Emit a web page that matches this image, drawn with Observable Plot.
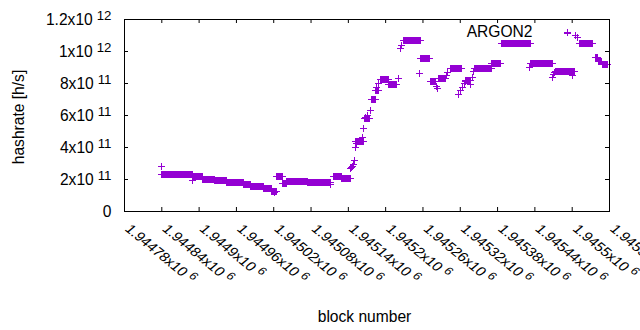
<!DOCTYPE html>
<html><head><meta charset="utf-8">
<script src="https://cdn.jsdelivr.net/npm/d3@7"></script>
<script src="https://cdn.jsdelivr.net/npm/@observablehq/plot@0.6"></script>
<style>body{margin:0;background:#fff;}</style>
</head><body><div id="chart"></div>
<script>
// Runs of consecutive blocks sharing the same hashrate
const segStart = [1944840,1944889,1944906,1944925,1944944,1944972,1944982,1945004,1945017,1945025,1945034,1945041,1945075,1945116,1945129,1945151,1945166,1945178,1945183,1945191,1945205,1945229,1945256,1945272,1945285,1945304,1945329,1945343,1945371,1945387,1945433,1945473,1945512,1945537,1945542,1945548];
const segEnd   = [1944889,1944906,1944925,1944944,1944972,1944982,1945004,1945017,1945025,1945034,1945041,1945075,1945111,1945129,1945143,1945164,1945174,1945183,1945188,1945205,1945218,1945256,1945271,1945280,1945296,1945322,1945337,1945371,1945385,1945433,1945468,1945503,1945533,1945541,1945547,1945557];
const segRate  = [2.31e11,2.17e11,2.02e11,1.95e11,1.81e11,1.69e11,1.59e11,1.45e11,1.28e11,2.17e11,1.77e11,1.85e11,1.82e11,2.19e11,2.04e11,4.38e11,5.79e11,6.98e11,7.56e11,8.23e11,7.94e11,1.067e12,9.54e11,8.1e11,8.33e11,8.92e11,8.19e11,8.92e11,9.23e11,1.048e12,9.23e11,8.75e11,1.052e12,9.6e11,9.4e11,9.2e11];
// Individual scattered blocks
const ptBlock = [1944840,1944890,1945022,1945112,1945143,1945145,1945146,1945148,1945150,1945152,1945153,1945162,1945165,1945168,1945171,1945175,1945186,1945189,1945221,1945224,1945226,1945254,1945281,1945283,1945298,1945300,1945317,1945320,1945323,1945326,1945328,1945337,1945339,1945341,1945432,1945468,1945470,1945472,1945501,1945506,1945508];
const ptRate  = [2.81e11,1.94e11,1.17e11,1.69e11,2.67e11,2.75e11,2.83e11,2.95e11,3.19e11,4.02e11,4.23e11,4.65e11,5.2e11,5.9e11,6.0e11,6.31e11,7.77e11,7.98e11,8.29e11,1.017e12,1.0375e12,8.6e11,7.8e11,7.7e11,8.5e11,8.7e11,7.29e11,7.56e11,7.78e11,7.98e11,8.13e11,7.94e11,8.39e11,8.75e11,9.0e11,8.39e11,8.56e11,8.7e11,8.5e11,1.1e12,1.089e12];

const xTicks = [1944780,1944840,1944900,1944960,1945020,1945080,1945140,1945200,1945260,1945320,1945380,1945440,1945500,1945560];
const xTickMantissa = ["1.94478x10","1.94484x10","1.9449x10","1.94496x10","1.94502x10","1.94508x10","1.94514x10","1.9452x10","1.94526x10","1.94532x10","1.94538x10","1.94544x10","1.9455x10","1.94556x10"];
const xTickExponent = "6";
const yTicks = [0,2e11,4e11,6e11,8e11,1e12,1.2e12];
const yTickMantissa = ["0","2x10","4x10","6x10","8x10","1x10","1.2x10"];
const yTickExponent = ["","11","11","11","11","12","12"];
const seriesName = "ARGON2";
const xTitle = "block number";
const yTitle = "hashrate [h/s]";

const color = "#9400d3";
const data = [];
segStart.forEach((s, i) => { for (let b = s; b <= segEnd[i]; b++) data.push({block: b, rate: segRate[i]}); });
ptBlock.forEach((b, i) => data.push({block: b, rate: ptRate[i]}));

const plus = {draw(ctx, size) { const r = Math.sqrt(size / Math.PI); ctx.moveTo(-r, 0); ctx.lineTo(r, 0); ctx.moveTo(0, -r); ctx.lineTo(0, r); }};

const chart = Plot.plot({
  width: 640, height: 330,
  marginLeft: 124, marginRight: 31, marginTop: 19, marginBottom: 119,
  style: {fontFamily: "'Liberation Sans', Arial, sans-serif", fontSize: "15.6px", color: "black", background: "white"},
  x: {domain: [1944780, 1945560], axis: null},
  y: {domain: [0, 1.2e12], axis: null},
  marks: [
    Plot.dot(data, {x: "block", y: "rate", symbol: plus, r: 3.5, stroke: color, fill: "none", strokeWidth: 1, shapeRendering: "crispEdges"}),
    Plot.frame({stroke: "black"}),
    Plot.tickX(xTicks, {x: d => d, insetTop: 188, stroke: "black"}),
    Plot.tickX(xTicks, {x: d => d, insetBottom: 188, stroke: "black"}),
    Plot.tickY(yTicks, {y: d => d, insetRight: 481, stroke: "black"}),
    Plot.tickY(yTicks, {y: d => d, insetLeft: 481, stroke: "black"}),
    Plot.text(yTicks, {y: d => d, frameAnchor: "left", text: (d, i) => yTickMantissa[i] + (yTickExponent[i] ? "^" + yTickExponent[i] : ""), textAnchor: "end", lineAnchor: "middle", dx: -13}),
    Plot.text(xTicks, {x: d => d, frameAnchor: "bottom", text: (d, i) => xTickMantissa[i] + "^" + xTickExponent, rotate: 45, textAnchor: "start", lineAnchor: "middle", dx: 3, dy: 15.4}),
    Plot.text([yTitle], {frameAnchor: "left", dx: -106, dy: 1.5, rotate: -90, textAnchor: "middle", lineAnchor: "middle"}),
    Plot.text([xTitle], {frameAnchor: "bottom", dx: -2.5, dy: 105, textAnchor: "middle", lineAnchor: "middle"}),
    Plot.text([seriesName], {frameAnchor: "top-right", dx: -77, dy: 12.5, textAnchor: "end", lineAnchor: "middle"}),
    Plot.dot([0], {frameAnchor: "top-right", dx: -42, dy: 13.3, symbol: plus, r: 3.5, stroke: color, fill: "none", shapeRendering: "crispEdges"})
  ]
});

const ns = "http://www.w3.org/2000/svg";
chart.querySelectorAll("text").forEach(t => {
  const s = t.textContent;
  if (s.indexOf("^") < 0) return;
  const [m, e] = s.split("^");
  t.textContent = "";
  const a = document.createElementNS(ns, "tspan"); a.textContent = m; t.appendChild(a);
  const b = document.createElementNS(ns, "tspan");
  b.setAttribute("dx", "4"); b.setAttribute("dy", "-5"); b.setAttribute("font-size", "0.85em");
  b.textContent = e; t.appendChild(b);
});
// the reference's slanted tick labels are slightly flattened (about 40 degrees)
chart.querySelectorAll("[transform]").forEach(el => {
  const tr = el.getAttribute("transform");
  if (/rotate\(45\)/.test(tr)) el.setAttribute("transform", tr.replace("rotate(45)", "scale(1,0.82) rotate(45)"));
});
document.getElementById("chart").appendChild(chart);
</script>
</body></html>
